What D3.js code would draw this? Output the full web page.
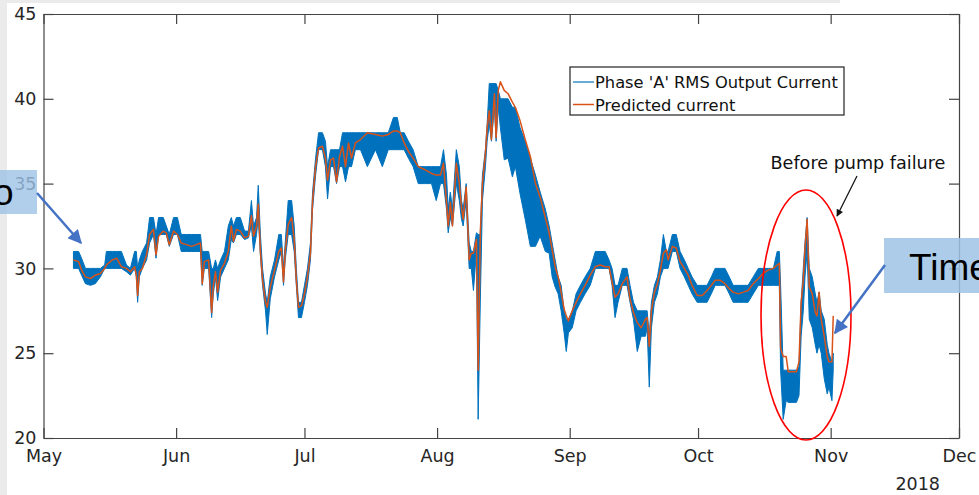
<!DOCTYPE html>
<html>
<head>
<meta charset="utf-8">
<script src="https://cdnjs.cloudflare.com/ajax/libs/d3/7.8.5/d3.min.js"></script>
<style>
body { margin: 0; background: #fff; }
svg { display: block; font-family: "DejaVu Sans", sans-serif; }
</style>
</head>
<body>
<svg width="979" height="495"></svg>
<script>
// ### Data (days after 1 May 2018) ###
var days = [7.0,8.2,8.9,9.8,11.0,12.1,13.3,14.3,14.7,16.1,17.1,18.2,19.4,20.3,21.3,21.7,22.0,22.4,23.1,24.1,
	24.8,25.7,26.3,26.9,28.0,28.7,29.4,30.4,31.3,32.2,33.4,34.6,35.7,36.7,
	37.1,37.6,38.6,39.3,39.7,40.2,40.7,41.4,42.3,43.2,43.9,44.4,45.1,46.0,47.0,47.9,48.6,49.1,49.8,50.2,
	50.7,51.2,51.9,52.3,53.0,54.0,55.0,55.6,56.1,56.5,57.2,58.0,58.6,59.1,59.6,60.3,61.0,61.7,62.4,62.9,
	63.6,64.3,65.2,65.9,66.4,67.1,67.8,
	68.5,69.2,69.9,70.6,71.3,72.0,72.9,74.1,75.7,77.6,79.2,80.6,81.8,82.7,83.4,84.3,85.3,86.4,87.6,89.3,
	90.7,91.8,92.8,93.5,94.2,94.6,95.1,95.6,96.5,97.2,97.7,98.1,98.8,99.5,100.0,100.5,101.2,101.6,102.1,102.6,
	103.3,103.7,104.2,104.7,105.4,105.8,106.3,106.8,107.7,108.6,109.6,110.3,111.4,112.6,113.8,115.0,116.1,117.3,118.2,118.9,
	119.6,120.3,121.0,121.7,122.2,122.7,123.6,124.5,125.5,126.6,127.8,129.0,130.1,
	131.3,132.2,132.9,133.6,134.3,135.3,136.4,137.1,137.9,138.8,139.7,140.7,141.1,141.6,142.1,142.8,143.5,144.2,144.9,145.6,
	146.0,147.0,147.9,148.8,149.8,150.7,151.6,152.8,154.0,155.1,156.1,157.0,158.2,159.3,160.3,161.2,162.4,
	163.6,164.7,165.9,167.1,168.2,169.4,170.6,171.5,172.0,172.3,172.9,173.6,174.1,175.0,176.0,176.6,177.1,177.6,178.0,178.5,
	179.0,179.7,180.4,180.8,181.3,181.8,182.5,183.2,183.6,184.3,184.6];

// Phase 'A' RMS output current, lower and upper edge of the band
var rmsLow = [30,30,29.6,29.1,29,29.1,29.5,30,30,30,30,30,29.8,29.6,30,29.5,28,29.5,30,30.5,
	31.5,32,30.6,32,32,32,31.3,32,32,31,31,31,31,31,
	29,30,30,27.1,28.5,29.5,28.1,29.5,30,30.5,31.7,31.5,32,32,31.7,31.8,32.5,31,32,33,
	30.8,29,27.5,26.1,28.2,29.5,30.5,31,29,30.5,32,32,31,29,27.1,27.1,28,29,30.5,33.5,
	35.5,37,37,36,34.1,36,36,
	35,36,36,35.1,36,36,37,37,36,37,36,37,37,37,37,37,36.5,36,35,35,
	35,34,35,35,33.5,32.1,33,32.5,35,34,32.9,32.5,34,30,30,28.7,31,21.1,28,34,
	36,37.5,38.5,37.5,39.5,37.5,39.5,38.3,36.4,36.5,35.4,36,34.4,32.9,31.3,31.3,31.9,31,30.9,29.5,
	28.9,28.5,27.5,26.2,25.1,26.2,26.5,27.5,28,28.5,29,30,30,
	30,30,29,27.1,28,29,29,28,27,25.1,26,26,26.5,23,26.5,28,28.5,29.5,30,30,
	30,31,31,30,29.5,29,28.5,28,28,28,28.5,29,29,29,28.5,28,28,
	28,28,28.5,29,29,29,29,29,29,24,21.1,22.2,22.1,22.1,22.1,22.5,26,27.5,29.5,31,
	27,26.5,25.5,25,25.5,25,23.5,22.6,23,22.2,24];

var rmsHigh = [31,31,30.6,30,30,30,30,30.2,31,31,31,31,30.2,30,31,31,30,30.5,31,31.5,
	33,33,32,33,33,32.5,32,33,33,32,32,32,32,32,
	31,31,31,30,30,30.5,30,30.5,31,32.5,33,32.5,33,33,32.2,32.2,34,32.5,33,34.9,
	32,30,28.5,28,29.5,30.5,32,32,30,31.5,34,34,32.5,30,28,28,29,30,31.5,34.5,
	36.5,38,38,37.5,36,37,37,
	37,37,38,38,38,38,38,38,38,38,38,38,38.9,38.9,38,38,37.5,37,36,36,
	36,36,36,37,35.5,33.5,34.5,33.5,37,36,34,33.5,35,31.5,31,31,32.1,32,32,35.5,
	37,38.5,40.9,40.9,40.9,40.9,40.5,40,40,40,39.5,39.5,38.3,37.5,36.5,35.5,34.5,33.5,32.5,31.5,
	30.5,29.5,29,27.5,27,27,27.5,28.5,29,29.5,30,31,31,
	31,30.5,30,29,29,30,30,29,28,27.5,27.5,27.5,27.5,26,28,29,29.5,30.5,32,31,
	31,32,32,31,30.5,30,29.5,29,29,29,29.5,30,30,30,29.5,29,29,
	29,29,29.5,30,30,30,30,31,31,29,24,24,24,24,24,24.2,28,30,31.5,33,
	30,29.5,28.5,28,28.6,27.5,27,25.5,25,24.5,25];

// Predicted current
var predicted = [30.5,30.4,29.9,29.5,29.4,29.6,29.7,30,30.2,30.5,30.6,30.1,30,29.8,30.1,29.6,28.4,29.8,30,30.8,
	32,32.3,30.8,31.9,32.2,32.1,31.4,32.2,32,31.5,31.4,31.3,31.4,31.5,
	29.1,30.4,30.5,27.4,29,29.8,28.6,29.9,30.3,31,32.5,31.6,32.3,32.2,31.8,31.9,33.1,31.9,32.5,33.8,
	31,29.3,28,27.7,28.9,29.9,31,31.2,29.2,31,32.6,33,31.7,29.3,27.7,27.8,28.5,29.5,30.9,34,
	36,37.1,37.2,36.5,35.2,36.4,36.5,
	35.1,36.6,37.2,36,37.4,36.5,37.4,37.6,38,37.9,37.8,37.9,38.1,38.1,38,37.4,36.9,36.5,36,35.8,
	35.6,35.5,35.5,36.2,33.9,32.5,33.9,32.5,36.2,35,33.6,32.9,34.8,30.5,30.9,30.9,31.7,24.0,32.1,35,
	36.8,38.3,39.3,37.6,40.3,37.7,40.5,41,40.5,40.3,39.8,39.5,38.7,37.6,36.6,35,34.2,33,32.1,31.1,
	30.1,29.5,28.6,27.6,27.2,26.9,27.5,28,28.5,29,29.6,30.1,30.2,
	30.1,30.1,29.2,28.3,28.5,29.1,29.5,28.2,27.4,26.8,26.5,27,27.1,25.4,27.5,28.6,29.1,29.9,30.9,31.1,
	30.5,31.3,31.2,30.4,30,29.6,29,28.4,28.4,28.7,29,29.3,29.3,29.1,28.8,28.6,28.5,
	28.6,28.7,29.1,29.4,29.7,29.9,30,30.2,30.3,25.3,24.8,24.8,23.9,23.9,23.9,24.5,28,29.3,31.2,32.9,
	28.9,28.5,27.4,27.2,28.6,27,26,24.8,24.5,24.5,27.2];

var yTicks = [20, 25, 30, 35, 40, 45];
var seriesNames = ["Phase 'A' RMS Output Current", "Predicted current"];
var seriesColors = ['#0072BD', '#D95319'];

// ### Setting up canvas ###
var svg = d3.select('svg');
var plot = {left: 43.5, right: 959, top: 14, bottom: 438};

svg.append('rect').attr('x', 0).attr('y', 0).attr('width', 7).attr('height', 495).attr('fill', '#ebebeb');
svg.append('rect').attr('x', 0).attr('y', 0).attr('width', 840).attr('height', 3).attr('fill', '#ebebeb');

var defs = svg.append('defs');
defs.append('marker').attr('id', 'headBlue')
	.attr('viewBox', '0 0 10 10').attr('refX', 9).attr('refY', 5)
	.attr('markerWidth', 16).attr('markerHeight', 14).attr('markerUnits', 'userSpaceOnUse')
	.attr('orient', 'auto')
	.append('path').attr('d', 'M0,0L10,5L0,10Z').attr('fill', '#4472C4');
defs.append('marker').attr('id', 'headBlack')
	.attr('viewBox', '0 0 10 10').attr('refX', 9).attr('refY', 5)
	.attr('markerWidth', 9).attr('markerHeight', 7).attr('markerUnits', 'userSpaceOnUse')
	.attr('orient', 'auto')
	.append('path').attr('d', 'M0,0L10,5L0,10Z').attr('fill', '#111');

// ### Scales ###
var start = Date.UTC(2018, 4, 1);
var toDate = d => new Date(start + d * 864e5);

var xScale = d3.scaleUtc()
	.domain([new Date(Date.UTC(2018, 4, 1)), new Date(Date.UTC(2018, 11, 1))])
	.range([plot.left, plot.right]);
var yScale = d3.scaleLinear()
	.domain([20, 45])
	.range([plot.bottom, plot.top]);

// ### Series ###
var band = d3.area()
	.x((d, i) => xScale(toDate(days[i])))
	.y0((d, i) => yScale(rmsLow[i]))
	.y1((d, i) => yScale(rmsHigh[i]));

svg.append('path')
	.datum(days)
	.attr('d', band)
	.attr('fill', seriesColors[0])
	.attr('stroke', seriesColors[0])
	.attr('stroke-width', 1)
	.attr('stroke-linejoin', 'round');

var predLine = d3.line()
	.x((d, i) => xScale(toDate(days[i])))
	.y((d, i) => yScale(predicted[i]));

svg.append('path')
	.datum(days)
	.attr('d', predLine)
	.attr('fill', 'none')
	.attr('stroke', seriesColors[1])
	.attr('stroke-width', 1.5)
	.attr('stroke-linejoin', 'round');

// ### Axis ###
var months = d3.utcMonth.every(1);

var gLeft = svg.append('g').attr('transform', `translate(${plot.left},0)`)
	.call(d3.axisLeft(yScale).tickValues(yTicks).tickSize(-10).tickSizeOuter(0).tickPadding(7));
var gRight = svg.append('g').attr('transform', `translate(${plot.right},0)`)
	.call(d3.axisRight(yScale).tickValues(yTicks).tickSize(-10).tickSizeOuter(0).tickFormat(''));
var gBottom = svg.append('g').attr('transform', `translate(0,${plot.bottom})`)
	.call(d3.axisBottom(xScale).ticks(months).tickFormat(d3.utcFormat('%b')).tickSize(-10).tickSizeOuter(0).tickPadding(12));
var gTop = svg.append('g').attr('transform', `translate(0,${plot.top})`)
	.call(d3.axisTop(xScale).ticks(months).tickSize(-10).tickSizeOuter(0).tickFormat(''));

[gLeft, gRight, gBottom, gTop].forEach(g => {
	g.attr('color', '#444');
	g.selectAll('path, line').attr('stroke-width', 1.2);
	g.selectAll('text').attr('fill', '#262626').attr('font-size', 17.5).attr('font-family', '"DejaVu Sans", sans-serif');
});

svg.append('text')
	.attr('x', 940).attr('y', 490)
	.attr('text-anchor', 'end')
	.attr('font-size', 17.5).attr('fill', '#262626')
	.text('2018');

// ### Legend ###
var legend = svg.append('g');
legend.append('rect')
	.attr('x', 570).attr('y', 67).attr('width', 274).attr('height', 48)
	.attr('fill', '#fff').attr('stroke', '#333').attr('stroke-width', 1.3);
seriesNames.forEach((name, i) => {
	var ly = 82 + i * 22.5;
	legend.append('line')
		.attr('x1', 573).attr('x2', 594).attr('y1', ly).attr('y2', ly)
		.attr('stroke', seriesColors[i]).attr('stroke-width', i ? 1.5 : 1.2);
	legend.append('text')
		.attr('x', 595).attr('y', ly + 6)
		.attr('font-size', 16.3).attr('fill', '#111')
		.text(name);
});

// ### Annotations ###
svg.append('ellipse')
	.attr('cx', 806).attr('cy', 315).attr('rx', 45).attr('ry', 125)
	.attr('fill', 'none').attr('stroke', '#ff0000').attr('stroke-width', 1.6);

svg.append('text')
	.attr('x', 858).attr('y', 169)
	.attr('text-anchor', 'middle')
	.attr('font-size', 17.6).attr('fill', '#111')
	.text('Before pump failure');

svg.append('line')
	.attr('x1', 857).attr('y1', 176).attr('x2', 837).attr('y2', 216)
	.attr('stroke', '#111').attr('stroke-width', 1.3)
	.attr('marker-end', 'url(#headBlack)');

// callout boxes from the slide (cut at the edges)
svg.append('rect')
	.attr('x', 0).attr('y', 170).attr('width', 37).attr('height', 44)
	.attr('fill', '#9dc3e6').attr('opacity', 0.8);
svg.append('text')
	.attr('x', -7).attr('y', 205)
	.attr('font-size', 37).attr('font-family', '"Liberation Sans", Arial, sans-serif').attr('fill', '#000')
	.text('o');
svg.append('line')
	.attr('x1', 37).attr('y1', 193).attr('x2', 81).attr('y2', 243)
	.attr('stroke', '#4472C4').attr('stroke-width', 2.5)
	.attr('marker-end', 'url(#headBlue)');

svg.append('rect')
	.attr('x', 884).attr('y', 238).attr('width', 95).attr('height', 55)
	.attr('fill', '#9dc3e6').attr('opacity', 0.85);
svg.append('text')
	.attr('x', 909).attr('y', 280)
	.attr('font-size', 37).attr('font-family', '"Liberation Sans", Arial, sans-serif').attr('fill', '#000')
	.text('Time');
svg.append('line')
	.attr('x1', 885).attr('y1', 265).attr('x2', 835).attr('y2', 333)
	.attr('stroke', '#4472C4').attr('stroke-width', 2.5)
	.attr('marker-end', 'url(#headBlue)');
</script>
</body>
</html>
